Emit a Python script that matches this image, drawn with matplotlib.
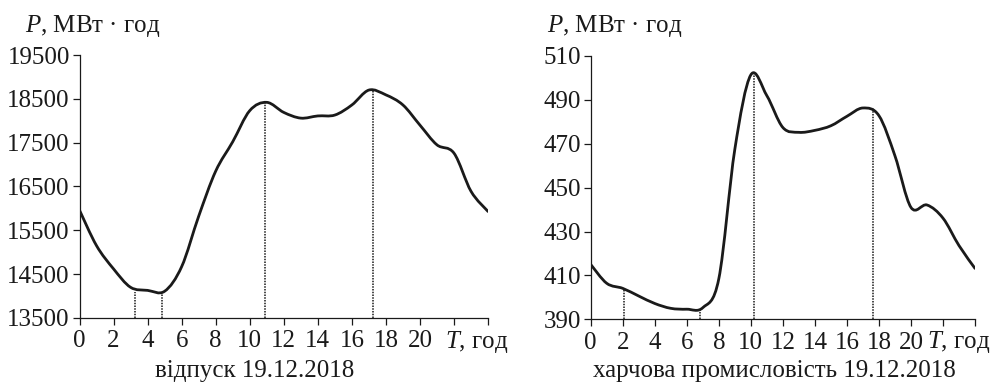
import numpy as np
import matplotlib
matplotlib.use('Agg')
from matplotlib import pyplot as plt
from matplotlib.path import Path
from matplotlib.patches import PathPatch

plt.rcParams['font.family'] = ['Liberation Serif', 'DejaVu Serif']
plt.rcParams['mathtext.fontset'] = 'custom'
plt.rcParams['mathtext.rm'] = 'Liberation Serif'
plt.rcParams['mathtext.it'] = 'Liberation Serif:italic'

# hourly readings, 0..24 h
hours = list(range(25))
left_p = [15960, 15150, 14620, 14200, 14130, 14110, 14670, 15820, 16850, 17520,
          18230, 18420, 18190, 18060, 18110, 18130, 18360, 18700, 18590, 18360,
          17900, 17450, 17260, 16390, 15930]
right_p = [415.0, 406.4, 404.1, 400.6, 397.2, 395.0, 394.6, 395.3, 408.5, 467.5,
           501.4, 491.9, 477.4, 475.2, 476.1, 478.2, 482.5, 486.3, 482.8, 464.5,
           441.0, 442.1, 436.1, 423.6, 413.2]

# extremes marked with dotted drop lines
left_mark_h = [3.26, 4.86, 10.9, 17.24]
left_mark_p = [14090, 14090, 18420, 18720]
right_mark_h = [2.08, 6.8, 10.2, 17.65]
right_mark_p = [404.1, 394.3, 501.9, 486.1]

left_yticks = [13500, 14500, 15500, 16500, 17500, 18500, 19500]
right_yticks = [390, 410, 430, 450, 470, 490, 510]
xticks = list(range(0, 25, 2))
xticklabels = ['0', '2', '4', '6', '8', '10', '12', '14', '16', '18', '20', '', '']

left_title = 'відпуск 19.12.2018'
right_title = 'харчова промисловість 19.12.2018'
ylabel = '$P$, МВт · год'
xlabel = '$T$, год'

INK = '#1a1a1a'
FS = 18


def smooth_path(x, y):
    # Catmull-Rom curve through the points, drawn as cubic beziers
    p = np.column_stack([x, y]).astype(float)
    p = np.vstack([p[0], p, p[-1]])
    verts = [p[1]]
    codes = [Path.MOVETO]
    for i in range(1, len(p) - 2):
        c1 = p[i] + (p[i + 1] - p[i - 1]) / 6.0
        c2 = p[i + 1] - (p[i + 2] - p[i]) / 6.0
        verts += [c1, c2, p[i + 1]]
        codes += [Path.CURVE4] * 3
    return Path(verts, codes)


def draw(ax, y, mark_h, mark_p, yticks):
    ax.add_patch(PathPatch(smooth_path(hours, y), fill=False, ec=INK, lw=2.0,
                           capstyle='round', joinstyle='round'))
    ax.vlines(mark_h, yticks[0], mark_p, colors=INK, linestyles=(0, (1.0, 0.8)),
              lw=1.1)
    ax.set_xlim(0, 24)
    ax.set_ylim(yticks[0], yticks[-1])
    ax.set_xticks(xticks)
    ax.set_xticklabels(xticklabels)
    ax.set_yticks(yticks)
    for s in ['top', 'right']:
        ax.spines[s].set_visible(False)
    for s in ['left', 'bottom']:
        ax.spines[s].set_linewidth(0.9)
        ax.spines[s].set_color(INK)
    ax.tick_params(direction='out', length=5, width=0.9, colors=INK,
                   labelsize=FS)
    ax.tick_params(axis='x', pad=4)
    ax.tick_params(axis='y', pad=2)


fig = plt.figure(figsize=(9.95, 3.86), dpi=100)
ax1 = fig.add_axes([0.0799, 0.1762, 0.4106, 0.6813])
ax2 = fig.add_axes([0.5937, 0.1728, 0.3862, 0.6822])

draw(ax1, left_p, left_mark_h, left_mark_p, left_yticks)
draw(ax2, right_p, right_mark_h, right_mark_p, right_yticks)

fig.text(25 / 995, 1 - 26 / 386, ylabel, fontsize=FS, va='center', ha='left', color=INK)
fig.text(547 / 995, 1 - 26 / 386, ylabel, fontsize=FS, va='center', ha='left', color=INK)
fig.text(445 / 995, 1 - 342 / 386, xlabel, fontsize=FS, va='center', ha='left', color=INK)
fig.text(927 / 995, 1 - 342 / 386, xlabel, fontsize=FS, va='center', ha='left', color=INK)
fig.text(255 / 995, 1 - 371 / 386, left_title, fontsize=FS, va='center', ha='center', color=INK)
fig.text(774 / 995, 1 - 371 / 386, right_title, fontsize=FS, va='center', ha='center', color=INK)

fig.savefig('out.png', dpi=100)
